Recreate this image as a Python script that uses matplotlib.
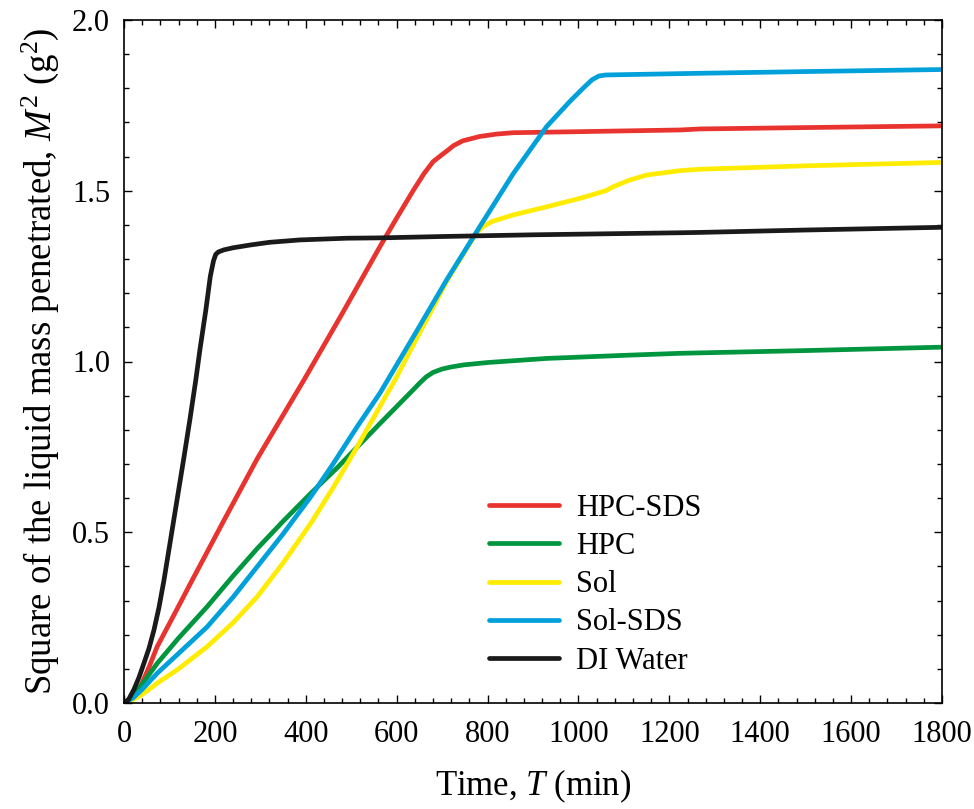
import matplotlib
matplotlib.use("Agg")
import matplotlib.pyplot as plt
from matplotlib.ticker import MultipleLocator, FormatStrFormatter

plt.rcParams["font.family"] = ["Liberation Serif", "DejaVu Serif"]
plt.rcParams["mathtext.fontset"] = "custom"
plt.rcParams["mathtext.rm"] = "Liberation Serif"
plt.rcParams["mathtext.it"] = "Liberation Serif:italic"

# Penetration curves: time (min) and squared penetrated mass (g^2)
t_water = [0, 10, 22, 33, 44, 55, 66, 77, 88, 99, 110, 121, 132, 145, 158, 167,
           180, 190, 197, 202, 208, 220, 240, 277, 320, 387, 490, 563, 700, 900,
           1224, 1268, 1500, 1800]
m_water = [0, 0.01, 0.04, 0.075, 0.117, 0.16, 0.214, 0.28, 0.36, 0.45, 0.54, 0.63,
           0.72, 0.83, 0.946, 1.034, 1.15, 1.25, 1.295, 1.314, 1.321, 1.327, 1.333,
           1.341, 1.349, 1.356, 1.361, 1.362, 1.366, 1.371, 1.377, 1.378, 1.385, 1.393]

t_hpc_sds = [0, 15, 37, 55, 73, 110, 147, 220, 293, 396, 480, 563, 600, 637, 660,
             680, 700, 712, 725, 745, 783, 820, 857, 1000, 1224, 1268, 1500, 1800]
m_hpc_sds = [0, 0.015, 0.05, 0.105, 0.165, 0.258, 0.352, 0.535, 0.715, 0.946, 1.14,
             1.336, 1.42, 1.502, 1.55, 1.585, 1.606, 1.618, 1.632, 1.646, 1.659,
             1.666, 1.670, 1.673, 1.678, 1.681, 1.685, 1.690]

t_hpc = [0, 20, 40, 73, 120, 183, 240, 293, 350, 411, 470, 528, 563, 600, 637, 650,
         665, 680, 700, 720, 747, 800, 930, 1100, 1224, 1500, 1800]
m_hpc = [0, 0.02, 0.055, 0.116, 0.19, 0.282, 0.372, 0.452, 0.532, 0.614, 0.69,
         0.77, 0.818, 0.868, 0.918, 0.936, 0.955, 0.968, 0.978, 0.984, 0.990, 0.997,
         1.009, 1.018, 1.024, 1.032, 1.042]

t_sol = [0, 20, 40, 73, 120, 183, 240, 293, 350, 411, 460, 513, 563, 598, 637, 675,
         710, 740, 761, 775, 790, 810, 856, 930, 1004, 1040, 1060, 1077, 1110, 1150,
         1224, 1268, 1500, 1800]
m_sol = [0, 0.01, 0.025, 0.058, 0.10, 0.165, 0.235, 0.311, 0.41, 0.526, 0.63, 0.75,
         0.868, 0.95, 1.05, 1.145, 1.235, 1.30, 1.346, 1.375, 1.395, 1.41, 1.429,
         1.453, 1.478, 1.492, 1.50, 1.512, 1.53, 1.546, 1.559, 1.563, 1.573, 1.583]

t_sol_sds = [0, 20, 40, 73, 120, 183, 240, 293, 350, 411, 460, 513, 563, 637, 710,
             783, 857, 930, 980, 1010, 1030, 1045, 1060, 1100, 1268, 1500, 1800]
m_sol_sds = [0, 0.015, 0.04, 0.087, 0.145, 0.223, 0.31, 0.399, 0.495, 0.604, 0.70,
             0.809, 0.907, 1.073, 1.239, 1.395, 1.551, 1.688, 1.76, 1.80, 1.825,
             1.836, 1.839, 1.840, 1.844, 1.849, 1.855]

series = [
    ("HPC-SDS", t_hpc_sds, m_hpc_sds, "#E8332F"),
    ("HPC", t_hpc, m_hpc, "#00963F"),
    ("Sol", t_sol, m_sol, "#FFEC00"),
    ("Sol-SDS", t_sol_sds, m_sol_sds, "#00A0DB"),
    ("DI Water", t_water, m_water, "#1A1A1A"),
]

fig = plt.figure(figsize=(9.74, 8.09), dpi=100)
ax = fig.add_axes([124 / 974, 1 - 703 / 809, 818 / 974, 683 / 809])

for label, t, m, color in series:
    ax.plot(t, m, color=color, lw=3.4, label=label, solid_capstyle="round",
            solid_joinstyle="round")

ax.set_xlim(0, 1800)
ax.set_ylim(0, 2.0)
ax.xaxis.set_major_locator(MultipleLocator(200))
ax.xaxis.set_minor_locator(MultipleLocator(40))
ax.yaxis.set_major_locator(MultipleLocator(0.5))
ax.yaxis.set_minor_locator(MultipleLocator(0.1))
ax.yaxis.set_major_formatter(FormatStrFormatter("%.1f"))
ax.tick_params(which="both", direction="in", top=True, right=True, width=1.0,
               labelsize=22)
ax.tick_params(axis="x", pad=12)
ax.tick_params(axis="y", pad=10)
ax.tick_params(which="major", length=5.5)
ax.tick_params(which="minor", length=3.5)
for sp in ax.spines.values():
    sp.set_linewidth(1.2)

ax.set_xlabel("Time, $T$ (min)", fontsize=25, labelpad=14)
ax.set_ylabel("Square of the liquid mass penetrated, $M^2$ (g$^2$)", fontsize=26.5,
              labelpad=8)

fig.legend(loc="upper left", bbox_to_anchor=(489 / 974, 1 - 494 / 809),
           frameon=False, fontsize=22, handlelength=2.3, handletextpad=0.55,
           labelspacing=0.3, borderpad=0, borderaxespad=0)

fig.savefig("out.png", dpi=100)
